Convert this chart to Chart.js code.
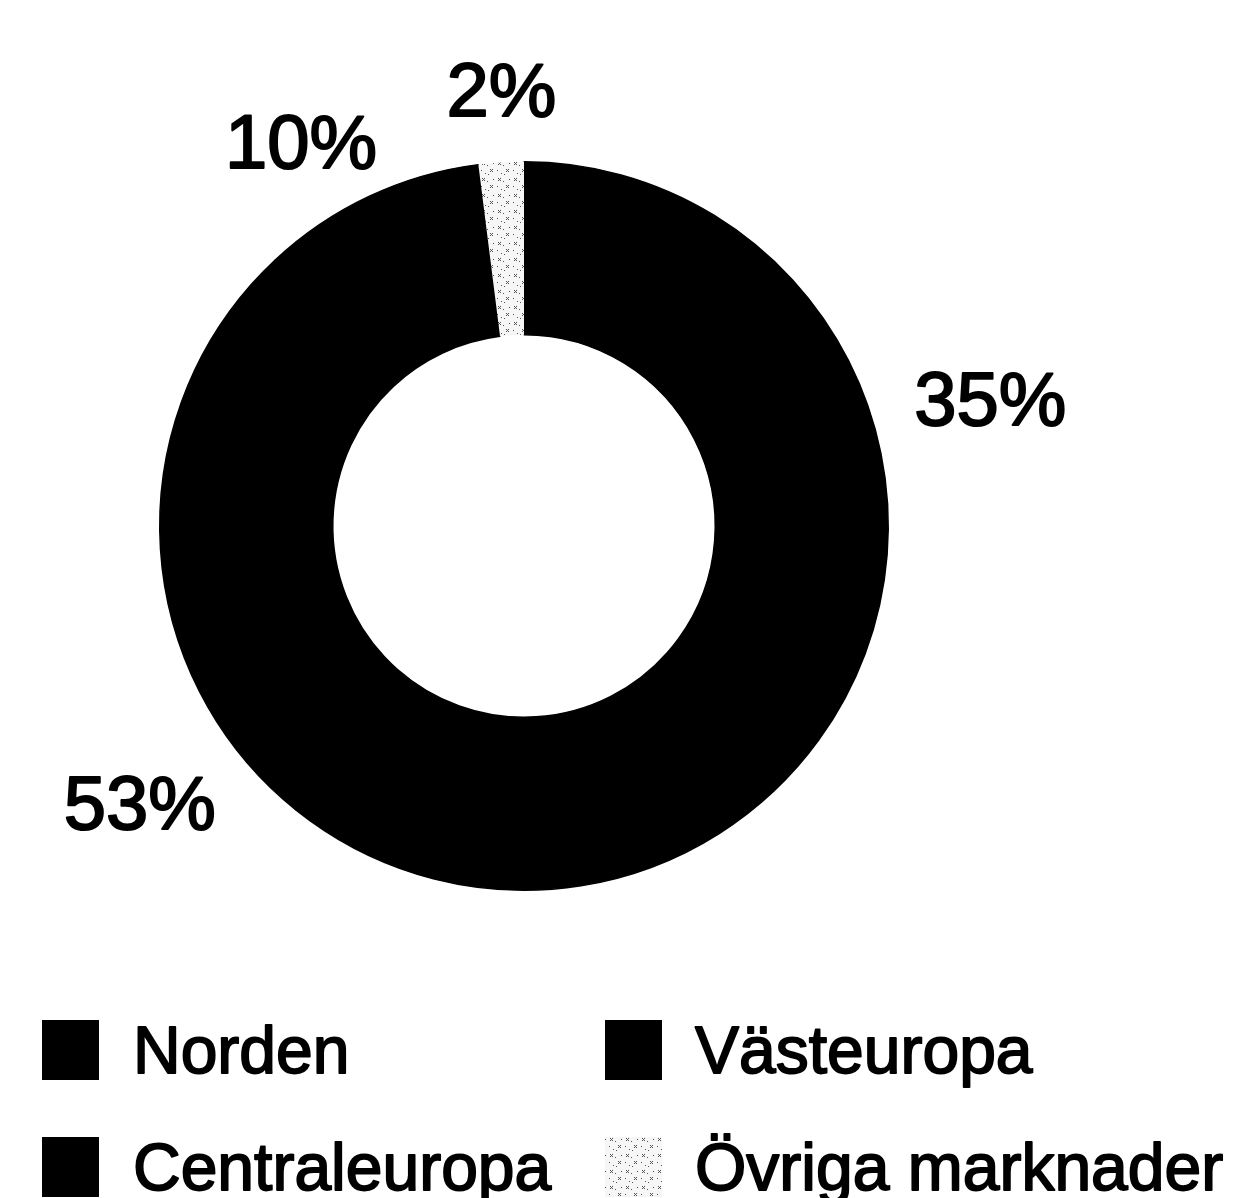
<!DOCTYPE html>
<html>
<head>
<meta charset="utf-8">
<script src="https://cdn.jsdelivr.net/npm/chart.js@4.4.1/dist/chart.umd.min.js"></script>
<style>
  html, body { margin: 0; padding: 0; background: #ffffff; }
  #wrap { width: 1236px; height: 1198px; position: relative; }
</style>
</head>
<body>
<div id="wrap"><canvas id="c"></canvas></div>
<script>
// ---- data ----
const categories = ["Norden", "Västeuropa", "Centraleuropa", "Övriga marknader"];
const shares = [35, 53, 10, 2];
const shareLabels = ["35%", "53%", "10%", "2%"];

// ---- hatched pattern for "Övriga marknader" ----
function makePattern() {
  const p = document.createElement('canvas');
  p.width = 16; p.height = 16;
  const g = p.getContext('2d');
  g.fillStyle = '#f6f6f6';
  g.fillRect(0, 0, 16, 16);
  g.fillStyle = '#555555';
  const dots = [[2,2],[3,3],[4,2],[2,4],[4,4],[10,9],[11,10],[12,9],[10,11],[12,11],[7,5],[13,3],[5,13],[1,10],[8,14]];
  dots.forEach(([x,y]) => g.fillRect(x, y, 1, 1));
  return g.createPattern(p, 'repeat');
}
const hatch = makePattern();
const colors = ['#000000', '#000000', '#000000', hatch];

// label placement: angular offset (deg) from slice mid-angle and radius factor of outer radius
const labelPlacement = [
  { dAngle: 12.4, rFactor: 1.323 },
  { dAngle: 12.3, rFactor: 1.309 },
  { dAngle: -5.3, rFactor: 1.206 },
  { dAngle: 0.6,  rFactor: 1.186 }
];

function heavyText(ctx, txt, x, y, lw) {
  ctx.fillText(txt, x, y);
  ctx.lineWidth = lw;
  ctx.lineJoin = 'round';
  ctx.strokeText(txt, x, y);
}

const outsideLabels = {
  id: 'outsideLabels',
  afterDatasetsDraw(chart, args, opts) {
    const ctx = chart.ctx;
    const meta = chart.getDatasetMeta(0);
    ctx.save();
    ctx.fillStyle = '#000000';
    ctx.strokeStyle = '#000000';
    ctx.font = opts.font;
    ctx.textAlign = 'center';
    ctx.textBaseline = 'middle';
    meta.data.forEach((arc, i) => {
      const p = arc.getProps(['x', 'y', 'startAngle', 'endAngle', 'outerRadius'], true);
      const mid = (p.startAngle + p.endAngle) / 2 + labelPlacement[i].dAngle * Math.PI / 180;
      const r = p.outerRadius * labelPlacement[i].rFactor;
      heavyText(ctx, shareLabels[i], p.x + r * Math.cos(mid), p.y + r * Math.sin(mid), 2);
    });
    ctx.restore();
  }
};

const gridLegend = {
  id: 'gridLegend',
  afterDraw(chart, args, opts) {
    const ctx = chart.ctx;
    const ds = chart.data.datasets[0];
    ctx.save();
    ctx.font = opts.font;
    ctx.textAlign = 'left';
    ctx.textBaseline = 'alphabetic';
    chart.data.labels.forEach((lab, i) => {
      const col = i % 2, row = Math.floor(i / 2);
      const sx = opts.swatchX[col], sy = opts.rowTop[row];
      ctx.fillStyle = ds.backgroundColor[i];
      ctx.fillRect(sx, sy, opts.swatchW, opts.swatchH);
      ctx.fillStyle = '#000000';
      ctx.strokeStyle = '#000000';
      heavyText(ctx, lab, opts.textX[col], sy + opts.baselineOffset, 1.8);
    });
    ctx.restore();
  }
};

new Chart(document.getElementById('c'), {
  type: 'doughnut',
  data: {
    labels: categories,
    datasets: [{
      data: shares,
      backgroundColor: colors,
      borderColor: ['#000000', '#000000', '#000000', 'rgba(0,0,0,0)'],
      borderWidth: [1.5, 1.5, 1.5, 0],
      hoverOffset: 0
    }]
  },
  options: {
    responsive: true,
    maintainAspectRatio: false,
    animation: false,
    cutout: '52.5%',
    layout: { padding: { left: 159, top: 161, right: 347, bottom: 307 } },
    plugins: {
      legend: { display: false },
      tooltip: { enabled: false },
      outsideLabels: { font: '76px "Liberation Sans", Arial, sans-serif' },
      gridLegend: {
        font: '66px "Liberation Sans", Arial, sans-serif',
        swatchX: [42, 605],
        textX: [133, 695],
        rowTop: [1020, 1137],
        swatchW: 57,
        swatchH: 60,
        baselineOffset: 53
      }
    }
  },
  plugins: [outsideLabels, gridLegend]
});
</script>
</body>
</html>
